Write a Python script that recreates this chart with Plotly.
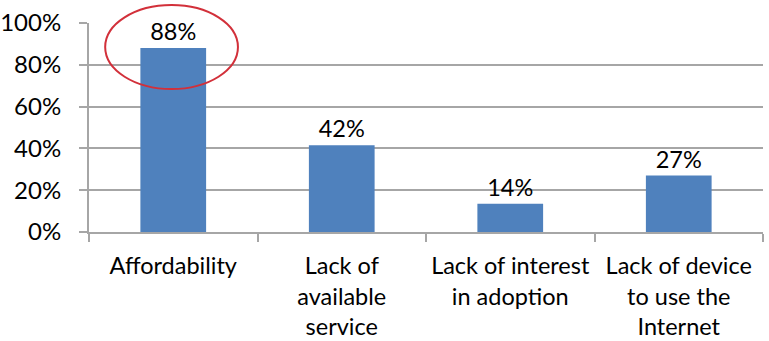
import plotly.graph_objects as go

categories = ["Affordability", "Lack of<br>available<br>service", "Lack of interest<br>in adoption", "Lack of device<br>to use the<br>Internet"]
values = [0.88, 0.415, 0.135, 0.27]
labels = ["88%", "42%", "14%", "27%"]
y_ticks = [0, 0.2, 0.4, 0.6, 0.8, 1.0]
y_tick_labels = ["0%", "20%", "40%", "60%", "80%", "100%"]

FONT = "Lato"
FS = 24
GRID = "#a6a6a6"

fig = go.Figure(go.Bar(
    x=categories, y=values, text=labels, textposition="outside",
    textfont=dict(family=FONT, size=23.5, color="black"),
    marker=dict(color="#4f81bd", line=dict(width=0)),
    cliponaxis=False,
))

fig.update_layout(
    width=769, height=341,
    margin=dict(l=89, r=6, t=23, b=109, autoexpand=False),
    paper_bgcolor="white", plot_bgcolor="white",
    bargap=0.61, showlegend=False,
    font=dict(family=FONT, size=FS, color="black"),
)
fig.update_xaxes(
    showline=True, linecolor=GRID, linewidth=2,
    ticks="outside", ticklen=8, tickcolor=GRID, tickwidth=2,
    tickson="boundaries", showgrid=False, tickangle=0, automargin=False,
    ticklabelstandoff=12,
    tickfont=dict(family=FONT, size=23.5, color="black"),
)
fig.update_yaxes(
    range=[0, 1.0], tickvals=y_ticks, ticktext=y_tick_labels,
    showgrid=True, gridcolor=GRID, gridwidth=2, automargin=False,
    showline=True, linecolor=GRID, linewidth=2,
    ticks="outside", ticklen=8, tickcolor=GRID, tickwidth=2,
    ticklabelstandoff=13,
    tickfont=dict(family=FONT, size=FS, color="black"),
    zeroline=False,
)
fig.add_shape(
    type="circle", xref="x domain", yref="y domain",
    x0=0.024, x1=0.221, y0=0.684, y1=1.086,
    line=dict(color="#d2303a", width=2),
)
fig.write_html("out.html")
